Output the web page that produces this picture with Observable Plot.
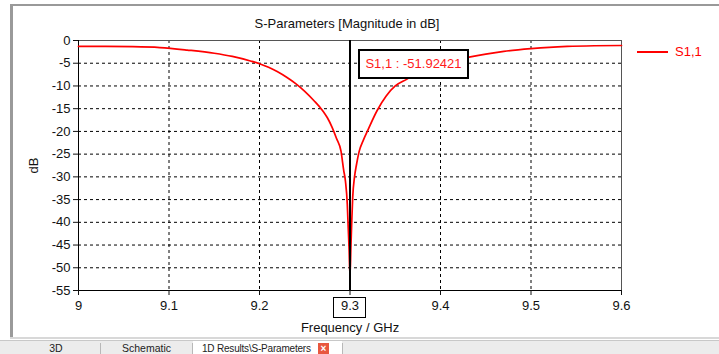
<!DOCTYPE html>
<html><head><meta charset="utf-8">
<script src="https://cdn.jsdelivr.net/npm/d3@7"></script>
<script src="https://cdn.jsdelivr.net/npm/@observablehq/plot@0.6"></script>
<style>
body{margin:0;background:#fff;font-family:"Liberation Sans",Arial,sans-serif;}
#wrap{position:relative;width:719px;height:354px;overflow:hidden;background:#fff}
#chart{position:absolute;left:0;top:0}
.abs{position:absolute}
#title{top:16px;left:0;width:694px;text-align:center;font-size:13px;color:#111}
#legLine{left:637px;top:51px;width:31px;height:2px;background:#ff0000}
#legText{left:675px;top:44px;font-size:13px;color:#ff0000}
#mbox{left:358px;top:49px;width:107px;height:26px;border:2px solid #000;background:#fff;color:#ff1a1a;font-size:13px;line-height:26px;text-align:center;white-space:nowrap}
#tbox{left:333px;top:297px;width:31px;height:19px;border:1px solid #000}
#bTop{left:10px;top:4px;width:709px;height:2px;background:#999}
#bLeft{left:10px;top:4px;width:3px;height:335px;background:#9a9a9a}
#bBot{left:10px;top:337px;width:709px;height:2px;background:#d8d8d8}
#tabs{left:0;top:340px;width:719px;height:14px;background:#ececec;border-top:1px solid #c8c8c8}
.tab{position:absolute;top:0;height:14px;font-size:10.5px;line-height:14px;text-align:center;color:#222;white-space:nowrap}
.sep{position:absolute;top:2px;width:1px;height:12px;background:#b8b8b8}
#close{position:absolute;left:125px;top:2px;width:11px;height:11px;background:#e8573f;color:#fff;font-size:10px;line-height:11px;text-align:center;font-weight:bold}
</style></head><body>
<div id="wrap">
  <div id="chart"></div>
  <div class="abs" id="bTop"></div>
  <div class="abs" id="bLeft"></div>
  <div class="abs" id="bBot"></div>
  <div class="abs" id="title"></div>
  <div class="abs" id="legLine"></div>
  <div class="abs" id="legText"></div>
  <div class="abs" id="mbox"></div>
  <div class="abs" id="tbox"></div>
  <div class="abs" id="tabs">
    <div class="tab" style="left:12px;width:88px">3D</div>
    <div class="sep" style="left:100px"></div>
    <div class="tab" style="left:101px;width:91px">Schematic</div>
    <div class="sep" style="left:192px"></div>
    <div class="tab" style="left:193px;width:149px;background:#fff;text-align:left;padding-left:9px;box-sizing:border-box"><span style="font-size:10px;letter-spacing:-0.2px">1D Results\S-Parameters</span><div id="close">×</div></div>
    <div class="sep" style="left:342px"></div>
  </div>
</div>
<script>
const title = "S-Parameters [Magnitude in dB]";
const seriesName = "S1,1";
const xLabel = "Frequency / GHz";
const yLabel = "dB";
const freq = [9.00, 9.03, 9.06, 9.09, 9.12, 9.15, 9.17, 9.19, 9.20, 9.21, 9.22, 9.23, 9.24, 9.25, 9.26, 9.27, 9.275, 9.28, 9.285, 9.29, 9.293, 9.295, 9.297, 9.298, 9.299, 9.30,
              9.301, 9.302, 9.303, 9.305, 9.307, 9.31, 9.315, 9.32, 9.33, 9.34, 9.35, 9.363, 9.38, 9.40, 9.42, 9.433, 9.45, 9.47, 9.50, 9.52, 9.54, 9.57, 9.60];
const s11  = [-1.3, -1.3, -1.35, -1.55, -2.1, -2.8, -3.5, -4.5, -5.1, -5.9, -6.9, -8.1, -9.5, -11.2, -13.2, -15.5, -17.0, -19.0, -21.5, -24.3, -28.5, -31.0, -36.0, -41.0, -46.0, -51.92421,
              -45.5, -39.5, -34.5, -30.0, -27.5, -24.5, -21.8, -19.6, -15.4, -12.2, -10.0, -8.5, -6.4, -5.0, -4.1, -3.6, -3.0, -2.4, -1.8, -1.5, -1.3, -1.15, -1.1];
const xTicks = [9, 9.1, 9.2, 9.3, 9.4, 9.5, 9.6];
const xTickLabels = ["9", "9.1", "9.2", "9.3", "9.4", "9.5", "9.6"];
const yTicks = [0, -5, -10, -15, -20, -25, -30, -35, -40, -45, -50, -55];
const yTickLabels = ["0", "-5", "-10", "-15", "-20", "-25", "-30", "-35", "-40", "-45", "-50", "-55"];
const markerFreq = 9.3;
const markerValue = -51.92421;

const data = freq.map((f, i) => ({f, v: s11[i]}));
const xFmt = d => xTickLabels[xTicks.indexOf(d)];
const yFmt = d => yTickLabels[yTicks.indexOf(d)];

const chart = Plot.plot({
  width: 719, height: 340,
  marginLeft: 78, marginRight: 98, marginTop: 40, marginBottom: 50,
  style: {fontFamily: '"Liberation Sans", Arial, sans-serif', fontSize: "13px", color: "#111", background: "transparent"},
  x: {domain: [9, 9.6]},
  y: {domain: [-55, 0]},
  marks: [
    Plot.gridX(xTicks, {stroke: "#000", strokeOpacity: 1, strokeDasharray: "3,3"}),
    Plot.gridY(yTicks, {stroke: "#000", strokeOpacity: 1, strokeDasharray: "3,3"}),
    Plot.frame({stroke: "#555"}),
    Plot.ruleX([9], {stroke: "#000"}),
    Plot.ruleY([-55], {stroke: "#000"}),
    Plot.axisX(xTicks, {tickFormat: xFmt, tickSize: 5, tickPadding: 5, label: xLabel, labelAnchor: "center", labelArrow: "none", labelOffset: 41}),
    Plot.axisY(yTicks, {tickFormat: yFmt, tickSize: 5, tickPadding: 3, label: yLabel, labelAnchor: "center", labelArrow: "none", labelOffset: 50}),
    Plot.line(data, {x: "f", y: "v", stroke: "#ff0000", strokeWidth: 1.7, curve: "monotone-x"}),
    Plot.ruleX([markerFreq], {stroke: "#000", strokeWidth: 2})
  ]
});
document.getElementById("chart").appendChild(chart);
document.getElementById("title").textContent = title;
document.getElementById("legText").textContent = seriesName;
document.getElementById("mbox").textContent = `${seriesName} : ${markerValue}`;
</script>
</body></html>
